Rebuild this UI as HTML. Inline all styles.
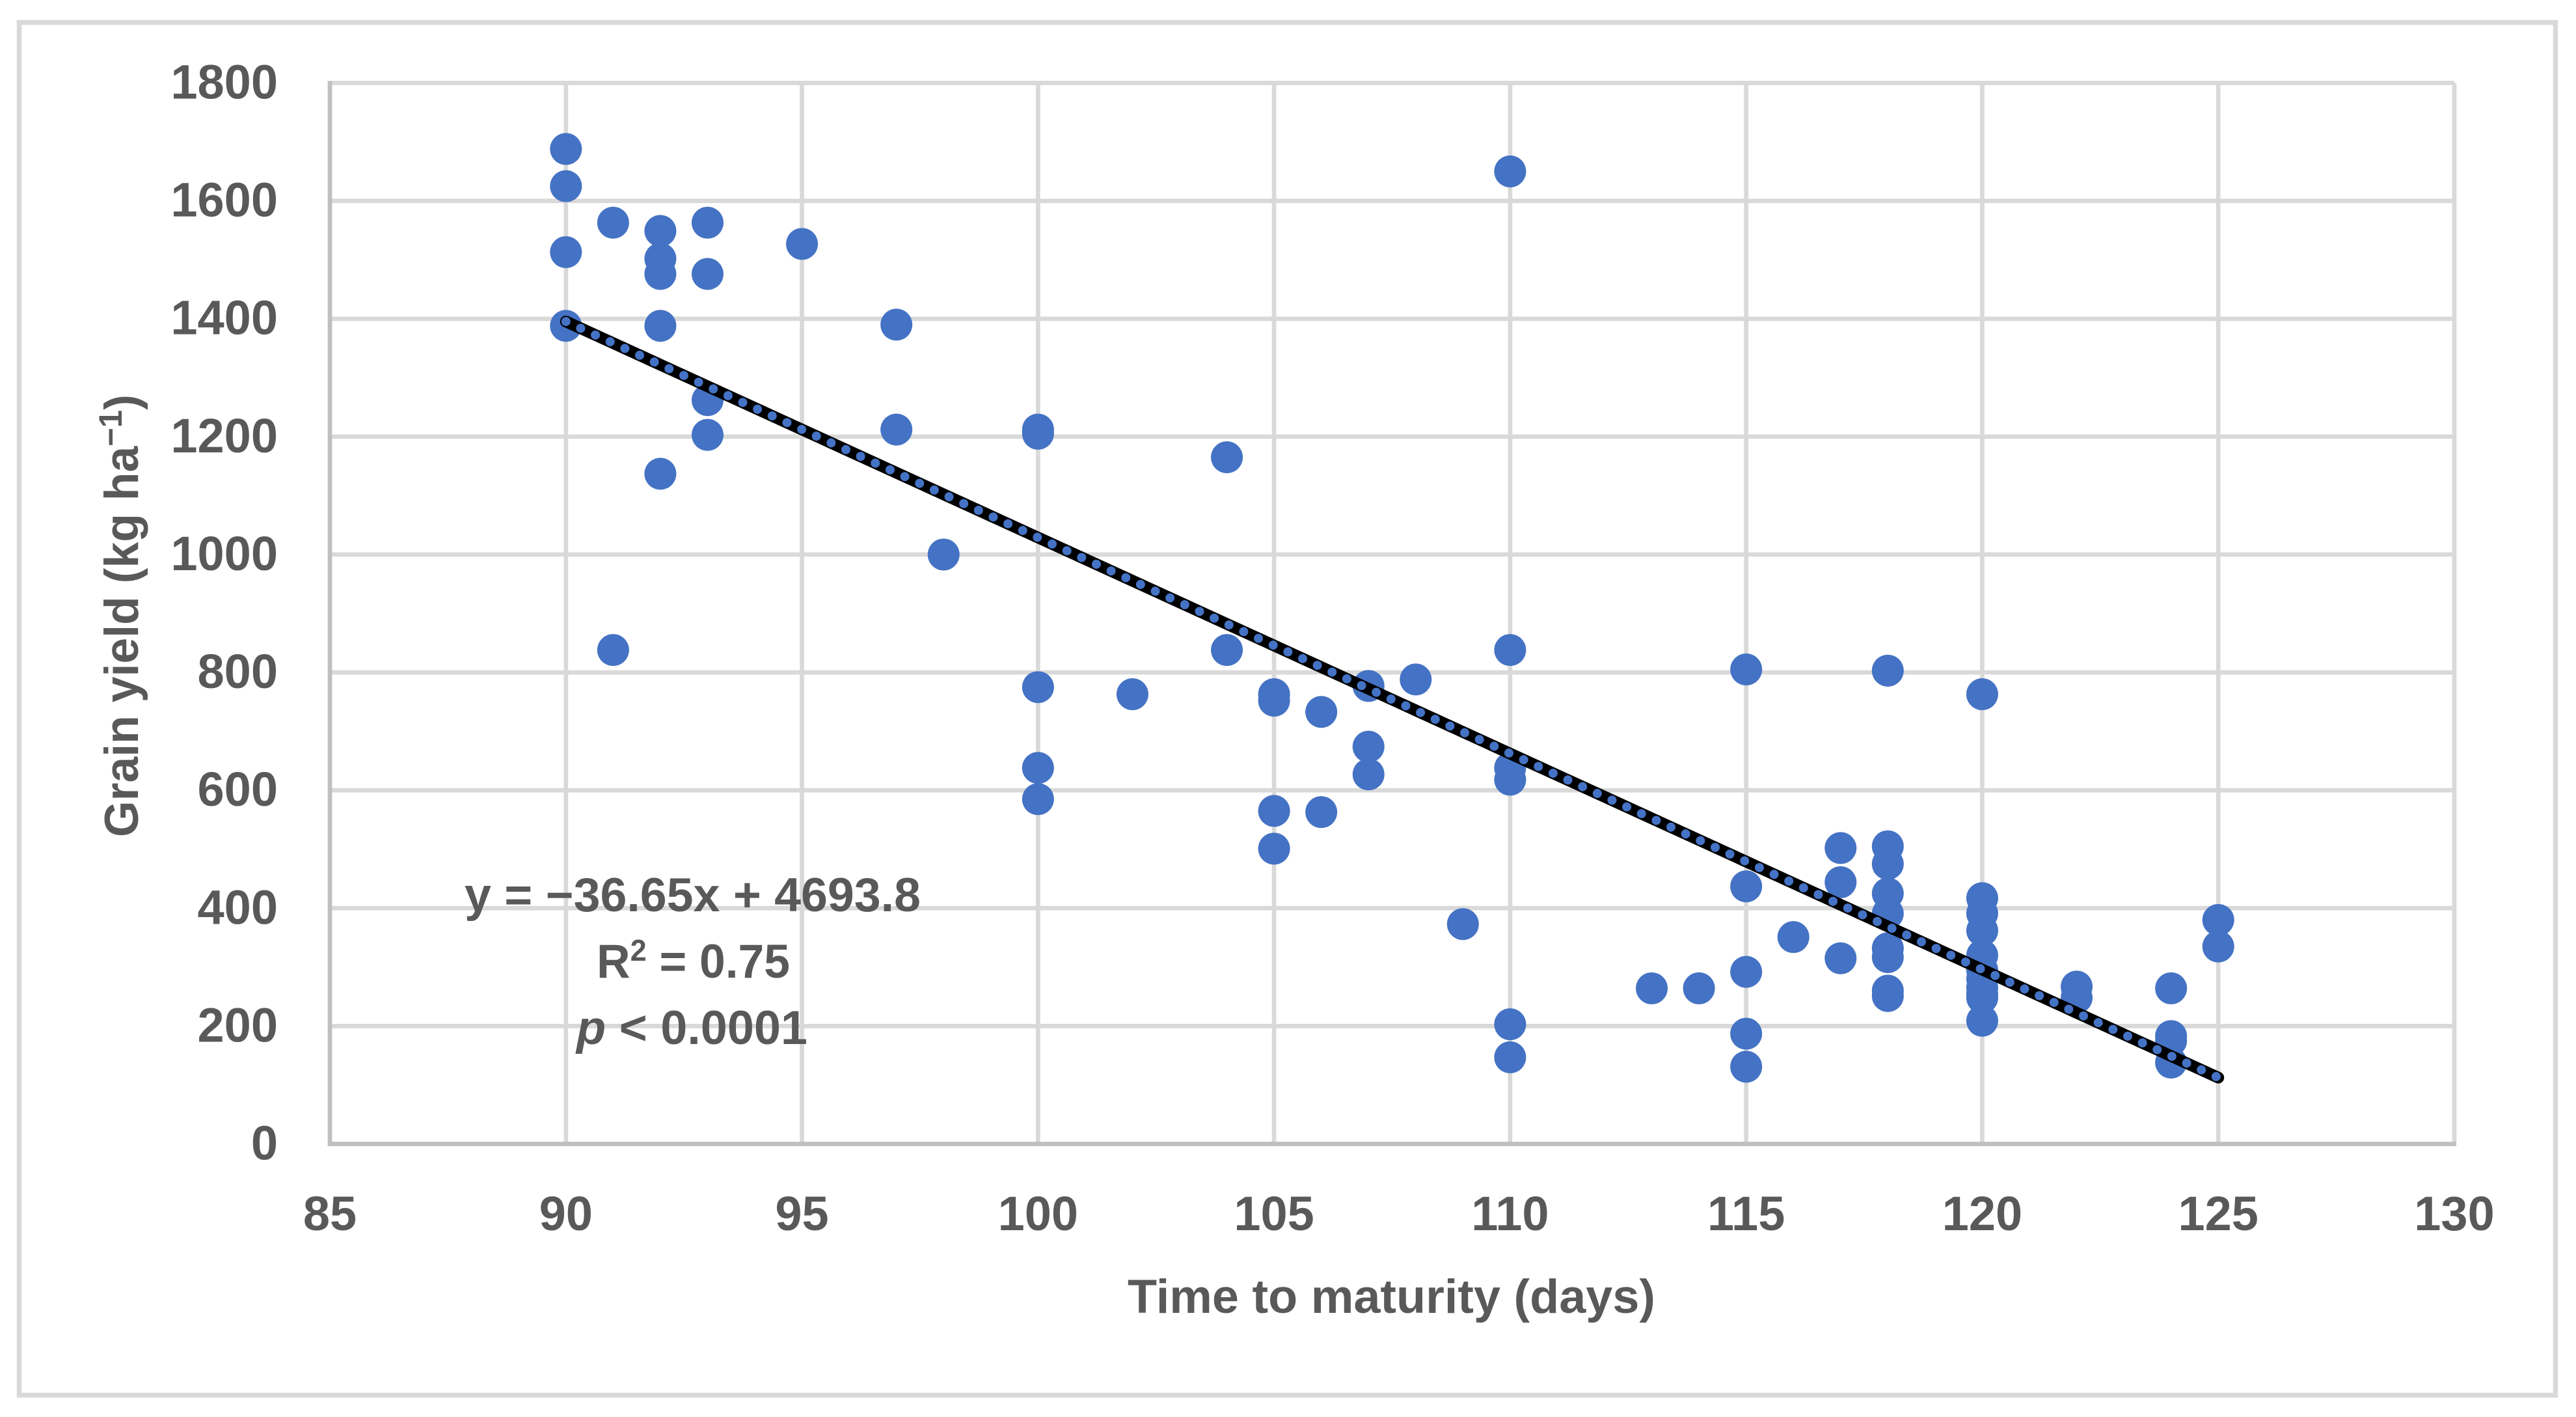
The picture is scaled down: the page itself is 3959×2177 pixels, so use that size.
<!DOCTYPE html>
<html lang="en">
<head>
<meta charset="utf-8">
<title>Grain yield vs time to maturity</title>
<style>
html,body{margin:0;padding:0;background:#fff;width:3959px;height:2177px;overflow:hidden}
svg{display:block}
text{font-family:"Liberation Sans",sans-serif;font-weight:700;fill:#595959}
</style>
</head>
<body>
<svg id="chart" xmlns="http://www.w3.org/2000/svg" width="3959" height="2177" viewBox="0 0 3959 2177">
  <rect x="29.5" y="34.5" width="3898" height="2109" fill="#fff" stroke="#d9d9d9" stroke-width="7.5"/>
  <g id="grid"></g>
  <g id="axes"></g>
  <g id="xticks"></g>
  <g id="yticks"></g>
  <g id="annotation">
    <text x="714" y="1400" font-size="73" textLength="701" lengthAdjust="spacingAndGlyphs">y = −36.65x + 4693.8</text>
    <text x="917" y="1502" font-size="73" textLength="297" lengthAdjust="spacingAndGlyphs">R<tspan dy="-26" font-size="46">2</tspan><tspan dy="26"> = 0.75</tspan></text>
    <text x="886" y="1604" font-size="73" textLength="355" lengthAdjust="spacingAndGlyphs"><tspan font-style="italic">p</tspan> &lt; 0.0001</text>
  </g>
  <g id="points"></g>
  <g id="trend"></g>
  <text x="1733" y="2017" font-size="73" textLength="811" lengthAdjust="spacingAndGlyphs">Time to maturity (days)</text>
  <text transform="translate(212 1286) rotate(-90)" x="0" y="0" font-size="73" textLength="680" lengthAdjust="spacingAndGlyphs">Grain yield (kg ha<tspan dy="-25" font-size="50">−1</tspan><tspan dy="25">)</tspan></text>
</svg>
<script>
const xTickLabels = [85, 90, 95, 100, 105, 110, 115, 120, 125, 130];
const yTickLabels = [0, 200, 400, 600, 800, 1000, 1200, 1400, 1600, 1800];
const maturityDays = [
  90, 90, 90, 90,
  91, 91,
  92, 92, 92, 92, 92,
  93, 93, 93, 93,
  95,
  97, 97,
  98,
  100, 100, 100, 100, 100,
  102,
  104, 104,
  105, 105, 105, 105,
  106, 106,
  107, 107, 107,
  108,
  109,
  110, 110, 110, 110, 110, 110,
  113,
  114,
  115, 115, 115, 115, 115,
  116,
  117, 117, 117,
  118, 118, 118, 118, 118, 118, 118, 118, 118,
  120, 120, 120, 120, 120, 120, 120, 120, 120, 120, 120,
  122, 122,
  124, 124, 124, 124,
  125, 125
];
const grainYield = [
  1688, 1625, 1513, 1388,
  1563, 838,
  1549, 1502, 1476, 1388, 1137,
  1563, 1476, 1262, 1203,
  1527,
  1390, 1212,
  1000,
  1212, 1205, 775, 638, 585,
  763,
  1165, 838,
  763, 752, 565, 501,
  733, 563,
  777, 674, 627,
  788,
  373,
  1650, 838, 638, 618, 203, 147,
  264,
  264,
  805, 437, 292, 187, 131,
  351,
  502, 444, 315,
  803, 505, 475, 425, 391, 332, 317, 260, 251,
  763, 417, 391, 362, 320, 295, 280, 265, 255, 248, 209,
  267, 248,
  264, 183, 175, 138,
  380, 335
];
const trendDays = [90, 125];
const trendSlope = -36.65;
const trendIntercept = 4693.8;

const SVGNS = 'http://www.w3.org/2000/svg';
const xMin = 85, xMax = 130, yMin = 0, yMax = 1800;
const plotLeft = 507, plotRight = 3772, plotTop = 127.5, plotBottom = 1757.5;
const sx = v => plotLeft + (v - xMin) / (xMax - xMin) * (plotRight - plotLeft);
const sy = v => plotBottom - (v - yMin) / (yMax - yMin) * (plotBottom - plotTop);
const mk = (tag, parent) => { const e = document.createElementNS(SVGNS, tag); parent.appendChild(e); return e; };
const line = (parent, x1, y1, x2, y2, color, w) => {
  const l = mk('line', parent);
  l.setAttribute('x1', x1); l.setAttribute('y1', y1);
  l.setAttribute('x2', x2); l.setAttribute('y2', y2);
  l.setAttribute('stroke', color); l.setAttribute('stroke-width', w);
  return l;
};

const grid = document.getElementById('grid');
const xticks = document.getElementById('xticks');
const yticks = document.getElementById('yticks');
const axes = document.getElementById('axes');
const points = document.getElementById('points');
const trend = document.getElementById('trend');

xTickLabels.forEach(v => {
  if (v !== xMin) {
    const g = line(grid, sx(v), plotTop, sx(v), plotBottom, '#d9d9d9', 6.7);
    
    
  }
  const t = mk('text', xticks);
  
  
  t.setAttribute('x', sx(v));
  t.setAttribute('y', 1890);
  t.setAttribute('font-size', 74);
  t.setAttribute('text-anchor', 'middle');
  t.textContent = v;
});

yTickLabels.forEach(v => {
  if (v !== yMin) {
    const g = line(grid, plotLeft, sy(v), plotRight, sy(v), '#d9d9d9', 6.7);
    
    
  }
  const t = mk('text', yticks);
  
  
  t.setAttribute('x', 427);
  t.setAttribute('y', sy(v) + 24);
  t.setAttribute('font-size', 74);
  t.setAttribute('text-anchor', 'end');
  t.textContent = v;
});

const yAxisLine = line(axes, plotLeft, plotTop - 3, plotLeft, plotBottom + 3, '#bfbfbf', 6.7);


const xAxisLine = line(axes, plotLeft - 3, plotBottom, plotRight + 3, plotBottom, '#bfbfbf', 6.7);



maturityDays.forEach((d, i) => {
  const c = mk('circle', points);
  
  
  c.setAttribute('cx', sx(d));
  c.setAttribute('cy', sy(grainYield[i]));
  c.setAttribute('r', 24.5);
  c.setAttribute('fill', '#4472c4');
});

const trendY = d => trendSlope * d + trendIntercept;
const x1 = sx(trendDays[0]), y1 = sy(trendY(trendDays[0]));
const x2 = sx(trendDays[1]), y2 = sy(trendY(trendDays[1]));
const trendBase = line(trend, x1, y1, x2, y2, '#000', 18);


trendBase.setAttribute('stroke-linecap', 'round');
const trendDots = line(trend, x1, y1, x2, y2, '#4472c4', 14);


trendDots.setAttribute('stroke-linecap', 'round');
trendDots.setAttribute('stroke-dasharray', '0 24.9');
</script>
</body>
</html>
